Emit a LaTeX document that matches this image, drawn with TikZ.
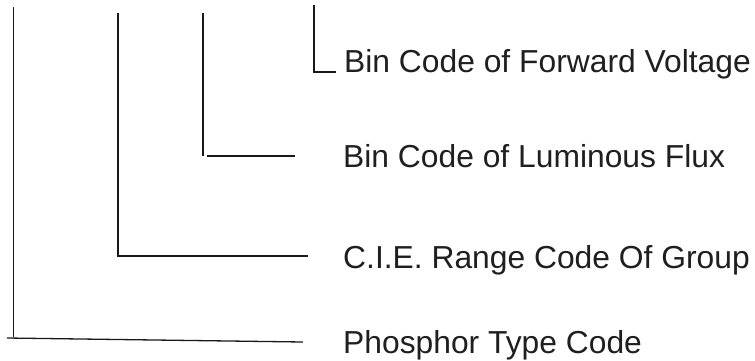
\documentclass[tikz,border=0pt]{standalone}
\usepackage{fontspec}
\setmainfont{Liberation Sans}
\begin{document}
\begin{tikzpicture}[x=1pt,y=-1pt,
  bracket/.style={draw=black!90,line width=1.3pt},
  codelabel/.style={anchor=base west,inner sep=0pt,text=black!88,
    font=\fontsize{31.8}{36}\selectfont}]
\useasboundingbox (0,0) rectangle (755,360);

% labels
\node[codelabel] (fv) at (344,72)  {Bin Code of Forward Voltage};
\node[codelabel] (lf) at (343,167) {Bin Code of Luminous Flux};
\node[codelabel] (cie) at (343,268) {C.I.E. Range Code Of Group};
\node[codelabel] (pt) at (343,353) {Phosphor Type Code};

% bracket end points
\coordinate (fvTop) at (314,5);
\coordinate (fvCorner) at (314,72);
\coordinate (fvEnd) at (336,72);

\coordinate (lfTop) at (203,13);
\coordinate (lfBottom) at (203,156);
\coordinate (lfStart) at (207,156);
\coordinate (lfEnd) at (295,156);

\coordinate (cieTop) at (118,13);
\coordinate (cieCorner) at (118,256);
\coordinate (cieEnd) at (308,256);

\coordinate (ptTop) at (13.5,7);
\coordinate (ptBottom) at (13.5,337);
\coordinate (ptStart) at (7,338);
\coordinate (ptEnd) at (303,342);

% brackets
\draw[bracket] (fvTop) -- (fvCorner) -- (fvEnd);
\draw[bracket] (lfTop) -- (lfBottom);
\draw[bracket] (lfStart) -- (lfEnd);
\draw[bracket] (cieTop) -- (cieCorner) -- (cieEnd);
\draw[bracket] (ptTop) -- (ptBottom);
\draw[bracket] (ptStart) -- (ptEnd);
\end{tikzpicture}
\end{document}
